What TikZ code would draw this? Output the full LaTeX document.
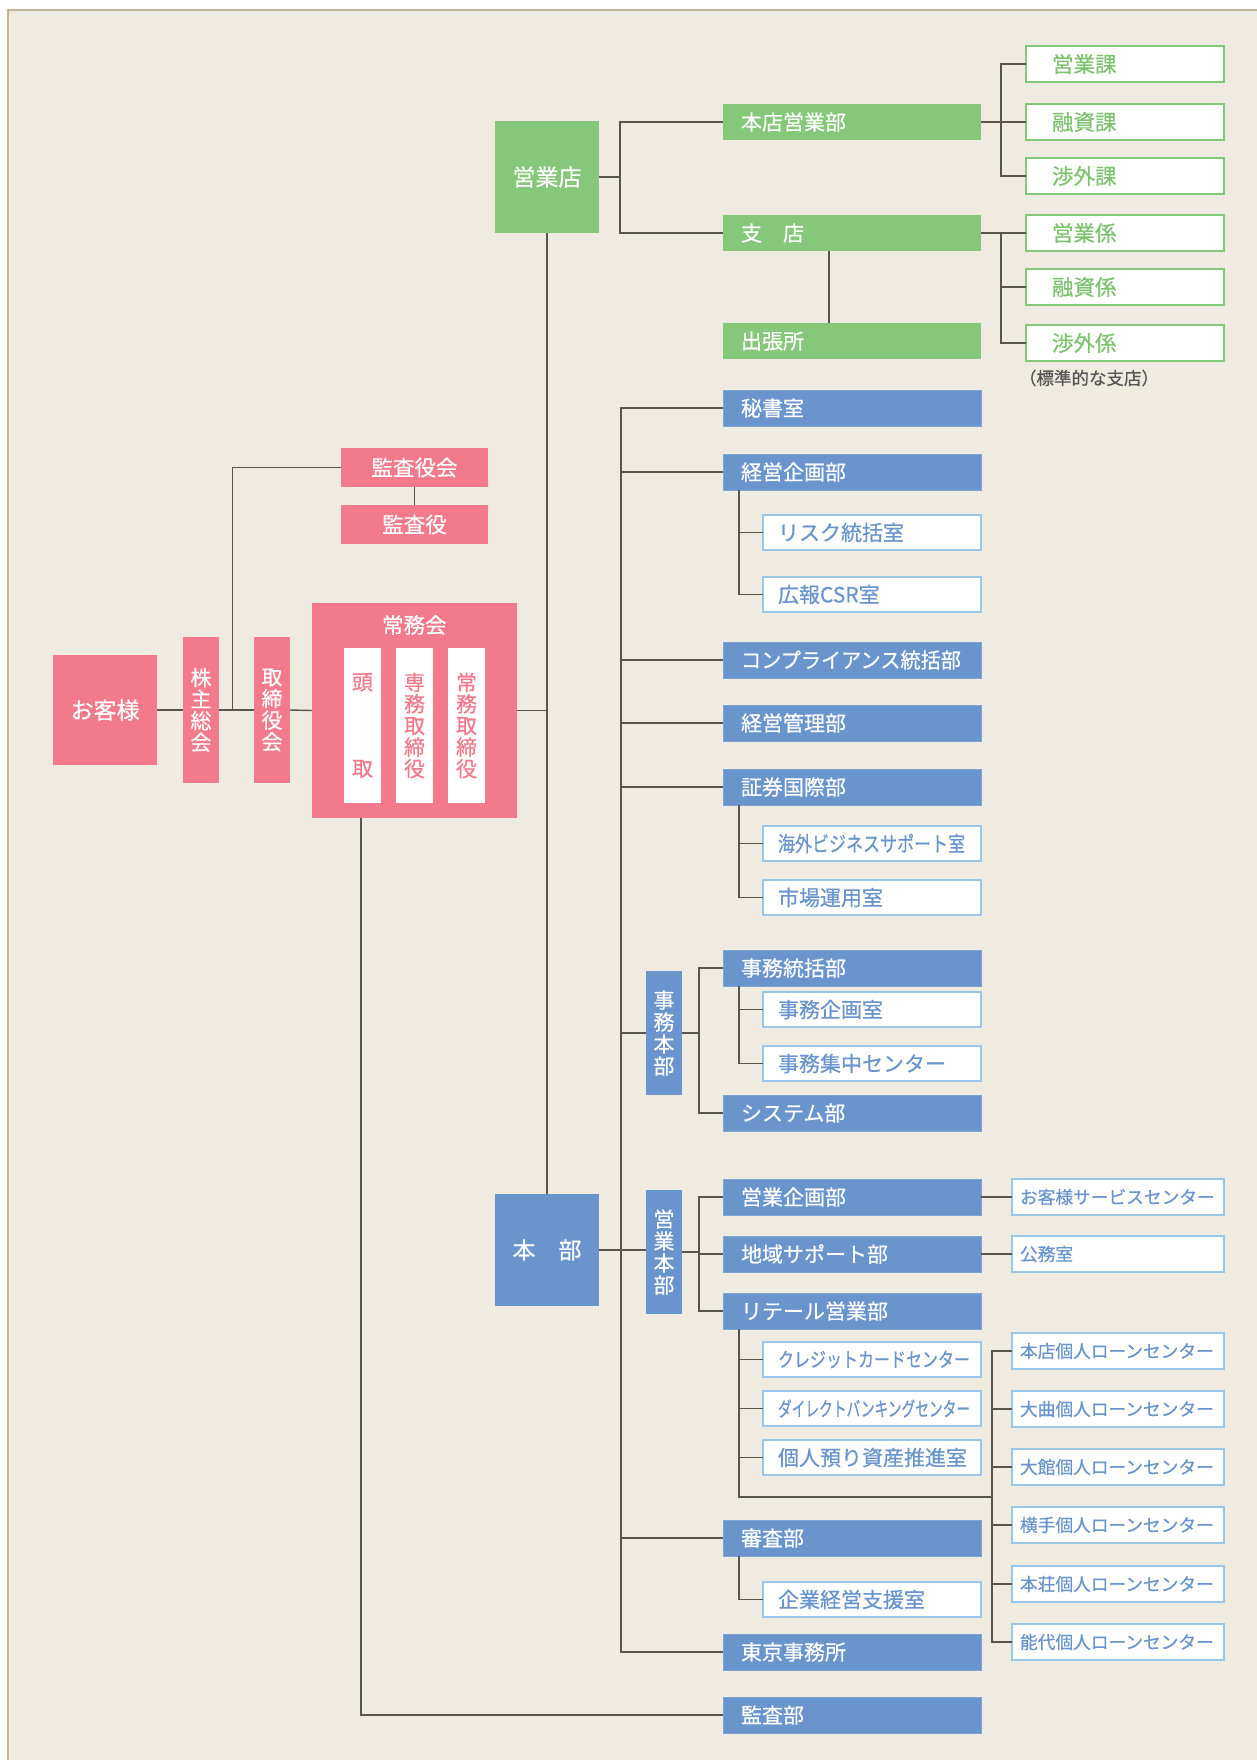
\documentclass[tikz,border=0pt]{standalone}
\usepackage{fontspec}
\setmainfont{Noto Sans CJK JP}[FakeBold=0.5]
\usepackage{graphicx}
\definecolor{bg}{HTML}{EFEBE1}
\definecolor{bgline}{HTML}{C4B597}
\definecolor{bluef}{HTML}{6A94CC}
\definecolor{bluet}{HTML}{6A94CC}
\definecolor{blueo}{HTML}{9CC6E6}
\definecolor{greenf}{HTML}{86C87A}
\definecolor{greent}{HTML}{7DC26F}
\definecolor{pinkf}{HTML}{F27A8A}
\definecolor{linec}{HTML}{58544E}
\definecolor{notec}{HTML}{555555}
\begin{document}
\begin{tikzpicture}[x=1pt,y=-1pt,
  every node/.style={inner ysep=0pt, outer sep=0pt},
  ln/.style={draw=linec, line width=1.4pt},
  fs/.style={font=\fontsize{#1}{#1}\selectfont},
  vfs/.style={font=\fontsize{#1}{21.6}\selectfont},
  box/.style={anchor=north west, inner ysep=0pt},
  bluebox/.style={box, fill=bluef, draw=bluef!85!white, line width=0.6pt, text=white, minimum width=258pt, minimum height=36pt, text width=222pt, inner xsep=18pt, align=left, fs=21},
  greenbox/.style={box, fill=greenf, text=white, minimum width=258pt, minimum height=36pt, text width=222pt, inner xsep=18pt, align=left, fs=21},
  subbox/.style={box, fill=white, draw=blueo, line width=1.2pt, text=bluet, minimum width=218pt, minimum height=35pt, text width=188pt, inner xsep=15pt, align=left, fs=21},
  rbox/.style={box, fill=white, draw=blueo, line width=1.2pt, text=bluet, minimum width=212pt, minimum height=36pt, text width=196pt, inner xsep=8pt, align=left, fs=17.7},
  gbox/.style={box, fill=white, draw=greenf, line width=1.4pt, text=greent, minimum width=198pt, minimum height=36pt, text width=146pt, inner xsep=26pt, align=left, fs=21.5},
  pinkbox/.style={box, fill=pinkf, text=white, align=center, inner xsep=0pt},
  vpink/.style={pinkbox, minimum width=36pt, minimum height=146pt, text width=36pt, vfs=21},
  vwhite/.style={box, fill=white, text=pinkf, minimum width=37pt, minimum height=155pt, text width=37pt, inner xsep=0pt, align=center, vfs=21},
  vblue/.style={box, fill=bluef, text=white, minimum width=36pt, minimum height=124pt, text width=36pt, inner xsep=0pt, align=center, font=\fontsize{21}{22}\selectfont},
  bigbox/.style={box, text=white, align=center, inner xsep=0pt, minimum width=104pt, minimum height=112pt, fs=23}
]
\useasboundingbox (0,0) rectangle (1257,1760);
\fill[bg] (8,10) rectangle (1257,1760);
\draw[bgline, line width=1.2pt] (8,1760) -- (8,10) -- (1257,10);

% ---- green: sales branches
\node[bigbox, fill=greenf] (eigyoten) at (495,121) {営業店};
\node[greenbox] (honten) at (723,104) {本店営業部};
\node[greenbox] (shiten) at (723,215) {支　店};
\node[greenbox] (shutcho) at (723,323) {出張所};
\node[gbox] (g1) at (1026,46) {営業課};
\node[gbox] (g2) at (1026,104) {融資課};
\node[gbox] (g3) at (1026,158) {渉外課};
\node[gbox] (g4) at (1026,215) {営業係};
\node[gbox] (g5) at (1026,269) {融資係};
\node[gbox] (g6) at (1026,325) {渉外係};
\node[anchor=west, inner sep=0pt, text=notec, fs=17.5] (note) at (1019,378) {（標準的な支店）};

% ---- pink: governance
\node[pinkbox, minimum width=147pt, minimum height=39pt, fs=21.5] (kansakai) at (341,448) {監査役会};
\node[pinkbox, minimum width=147pt, minimum height=39pt, fs=21.5] (kansayaku) at (341,505) {監査役};
\node[pinkbox, minimum width=104pt, minimum height=110pt, fs=23] (okyaku) at (53,655) {お客様};
\node[vpink] (kabu) at (183,637) {株\\主\\総\\会};
\node[vpink] (tori) at (254,637) {取\\締\\役\\会};
\node[pinkbox, minimum width=204.6pt, minimum height=215pt] (jomukai) at (312,603) {};
\node[text=white, inner sep=0pt, fs=21.5] (jomukaiT) at (414.3,625) {常務会};
\node[vwhite] (todori) at (344,648) {頭\\\mbox{}\\\mbox{}\\\mbox{}\\取};
\node[vwhite] (senmu) at (396,648) {専\\務\\取\\締\\役};
\node[vwhite] (jomu) at (448,648) {常\\務\\取\\締\\役};

% ---- blue: head office
\node[bigbox, fill=bluef] (honbu) at (495,1194) {本　部};
\node[bluebox] (hisho) at (723,390) {秘書室};
\node[bluebox] (kikaku) at (723,454) {経営企画部};
\node[subbox] (risk) at (763,515) {リスク統括室};
\node[subbox] (koho) at (763,577) {広報CSR室};
\node[bluebox] (compl) at (723,642) {\scalebox{0.96}[1]{コンプライアンス統括部}};
\node[bluebox] (kanri) at (723,705) {経営管理部};
\node[bluebox] (shoken) at (723,769) {証券国際部};
\node[subbox] (kaigai) at (763,826) {\scalebox{0.81}[1]{海外ビジネスサポート室}};
\node[subbox] (shijo) at (763,880) {市場運用室};
\node[vblue] (jihon) at (646,971) {事\\務\\本\\部};
\node[bluebox] (jtokatsu) at (723,950) {事務統括部};
\node[subbox] (jkikaku) at (763,992) {事務企画室};
\node[subbox] (shuchu) at (763,1046) {事務集中センター};
\node[bluebox] (system) at (723,1095) {システム部};
\node[vblue] (eihon) at (646,1190) {営\\業\\本\\部};
\node[bluebox] (eikikaku) at (723,1179) {営業企画部};
\node[bluebox] (chiiki) at (723,1236) {地域サポート部};
\node[bluebox] (retail) at (723,1293) {リテール営業部};
\node[subbox] (credit) at (763,1342) {{\fontsize{20}{20}\selectfont\scalebox{0.8}[1]{クレジットカードセンター}}};
\node[subbox] (direct) at (763,1391) {{\fontsize{20}{20}\selectfont\scalebox{0.685}[1]{ダイレクトバンキングセンター}}};
\node[subbox] (azukari) at (763,1440) {個人預り資産推進室};
\node[bluebox] (shinsa) at (723,1520) {審査部};
\node[subbox] (kigyo) at (763,1582) {企業経営支援室};
\node[bluebox] (tokyo) at (723,1634) {東京事務所};
\node[bluebox] (kansabu) at (723,1697) {監査部};
\node[rbox] (oss) at (1012,1179) {お客様サービスセンター};
\node[rbox] (komu) at (1012,1236) {公務室};
\node[rbox] (l1) at (1012,1333) {本店個人ローンセンター};
\node[rbox] (l2) at (1012,1391) {大曲個人ローンセンター};
\node[rbox] (l3) at (1012,1449) {大館個人ローンセンター};
\node[rbox] (l4) at (1012,1507) {横手個人ローンセンター};
\node[rbox] (l5) at (1012,1566) {本荘個人ローンセンター};
\node[rbox] (l6) at (1012,1624) {能代個人ローンセンター};

% ---- reference coordinates
\coordinate (gx) at (620,0);
\coordinate (sx) at (829,0);
\coordinate (gb) at (1001,0);
\coordinate (kx) at (232.5,0);
\coordinate (jx) at (361,0);
\coordinate (tx) at (621,0);
\coordinate (bx) at (699,0);
\coordinate (cx) at (739,0);
\coordinate (rx) at (992,0);
\coordinate (rj) at (992,1497);

% ---- connectors: sales branches
\draw[ln] (eigyoten.east) -- (eigyoten.east -| gx);
\draw[ln] (honten.west) -| (gx |- shiten.west) -- (shiten.west);
\draw[ln] (shiten.south -| sx) -- (shutcho.north -| sx);
\draw[ln] (honten.east) -- (g2.west);
\draw[ln] (g1.west) -| (gb |- g3.west) -- (g3.west);
\draw[ln] (shiten.east) -- (g4.west);
\draw[ln] (g4.west -| gb) |- (g6.west);
\draw[ln] (g5.west) -- (g5.west -| gb);
\draw[ln] (eigyoten.south) -- (honbu.north);

% ---- connectors: governance
\draw[ln] (okyaku.east) -- (kabu.west);
\draw[ln] (kabu.east) -- (tori.west);
\draw[ln] (tori.east) -- (jomukai.west);
\draw[ln] (jomukai.east) -- (jomukai.east -| honbu.north);
\draw[ln] (kansakai.west) -| (kx |- kabu.east);
\draw[ln] (kansakai.south) -- (kansayaku.north);
\draw[ln] (jomukai.south -| jx) |- (kansabu.west);

% ---- connectors: head office
\draw[ln] (hisho.west) -| (tx |- tokyo.west) -- (tokyo.west);
\draw[ln] (kikaku.west) -- (kikaku.west -| tx);
\draw[ln] (compl.west) -- (compl.west -| tx);
\draw[ln] (kanri.west) -- (kanri.west -| tx);
\draw[ln] (shoken.west) -- (shoken.west -| tx);
\draw[ln] (shinsa.west) -- (shinsa.west -| tx);
\draw[ln] (jihon.west) -- (jihon.west -| tx);
\draw[ln] (honbu.east) -- (honbu.east -| eihon.west);
\draw[ln] (jihon.east) -- (jihon.east -| bx);
\draw[ln] (jtokatsu.west) -| (bx |- system.west) -- (system.west);
\draw[ln] (eihon.east) -- (eihon.east -| bx);
\draw[ln] (eikikaku.west) -| (bx |- retail.west) -- (retail.west);
\draw[ln] (chiiki.west) -- (chiiki.west -| bx);
\draw[ln] (kikaku.south -| cx) |- (koho.west);
\draw[ln] (risk.west) -- (risk.west -| cx);
\draw[ln] (shoken.south -| cx) |- (shijo.west);
\draw[ln] (kaigai.west) -- (kaigai.west -| cx);
\draw[ln] (jtokatsu.south -| cx) |- (shuchu.west);
\draw[ln] (jkikaku.west) -- (jkikaku.west -| cx);
\draw[ln] (retail.south -| cx) |- (rj);
\draw[ln] (credit.west) -- (credit.west -| cx);
\draw[ln] (direct.west) -- (direct.west -| cx);
\draw[ln] (azukari.west) -- (azukari.west -| cx);
\draw[ln] (shinsa.south -| cx) |- (kigyo.west);
\draw[ln] (l1.west) -| (rx |- l6.west) -- (l6.west);
\draw[ln] (l2.west) -- (l2.west -| rx);
\draw[ln] (l3.west) -- (l3.west -| rx);
\draw[ln] (l4.west) -- (l4.west -| rx);
\draw[ln] (l5.west) -- (l5.west -| rx);
\draw[ln] (eikikaku.east) -- (oss.west);
\draw[ln] (chiiki.east) -- (komu.west);
\end{tikzpicture}
\end{document}
